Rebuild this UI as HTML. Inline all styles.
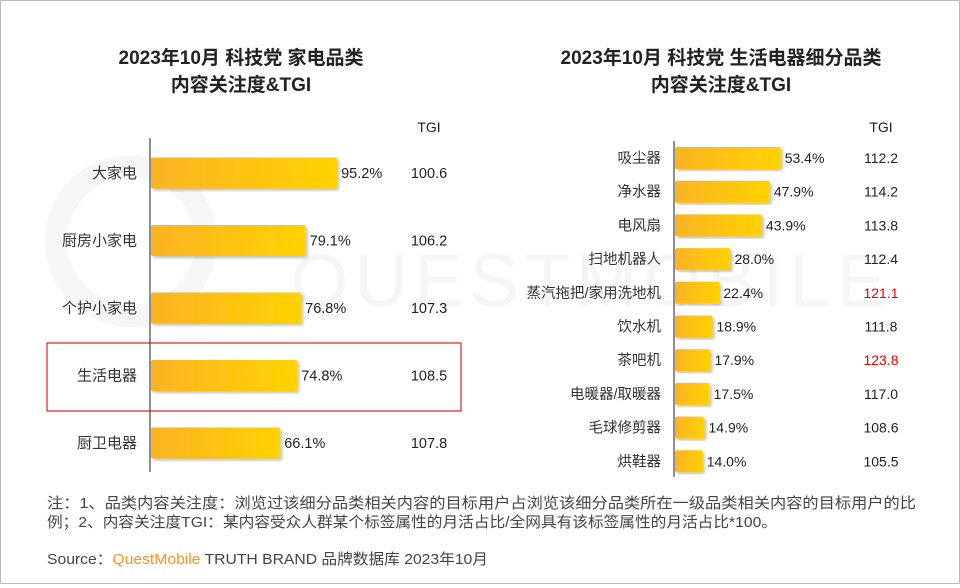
<!DOCTYPE html>
<html><head><meta charset="utf-8"><style>
body{margin:0;width:960px;height:584px;background:#fff;overflow:hidden;font-family:"Liberation Sans","Noto Sans CJK SC",sans-serif}
#root{position:relative;width:958px;height:582px;border:1px solid #bbb}
svg text{font-family:"Liberation Sans","Noto Sans CJK SC",sans-serif}
</style></head><body>
<div id="root">
<svg id="svg" width="958" height="582">
<defs><linearGradient id="g" x1="0" x2="1"><stop offset="0" stop-color="#fbb324"/><stop offset="1" stop-color="#ffd200"/></linearGradient>
<filter id="sh"><feDropShadow dx="2" dy="2" stdDeviation="1.5" flood-color="#000" flood-opacity="0.25"/></filter></defs>
<g>
<circle cx="130" cy="240" r="75" fill="none" stroke="#f6f6f6" stroke-width="22"/>
<text x="290" y="305" font-size="74" fill="#f5f5f5" letter-spacing="6">QUESTMOBILE</text></g>
<text x="240" y="63" text-anchor="middle" font-size="19" font-weight="bold" fill="#222">2023年10月 科技党 家电品类</text>
<text x="240" y="90" text-anchor="middle" font-size="19" font-weight="bold" fill="#222">内容关注度&amp;TGI</text>
<text x="720" y="63" text-anchor="middle" font-size="19" font-weight="bold" fill="#222">2023年10月 科技党 生活电器细分品类</text>
<text x="720" y="90" text-anchor="middle" font-size="19" font-weight="bold" fill="#222">内容关注度&amp;TGI</text>
<text x="428" y="131" text-anchor="middle" font-size="14" fill="#222">TGI</text>
<text x="880" y="131" text-anchor="middle" font-size="14" fill="#222">TGI</text>
<rect x="46" y="342" width="414" height="68" fill="none" stroke="#e02020" stroke-width="1.2"/>
<g id="L"></g><g id="R"></g>
<text x="46" y="507" font-size="15" fill="#444" textLength="869" lengthAdjust="spacingAndGlyphs">注：1、品类内容关注度：浏览过该细分品类相关内容的目标用户占浏览该细分品类所在一级品类相关内容的目标用户的比</text>
<text x="46" y="526" font-size="15" fill="#444" textLength="730" lengthAdjust="spacingAndGlyphs">例；2、内容关注度TGI：某内容受众人群某个标签属性的月活占比/全网具有该标签属性的月活占比*100。</text>
<text x="46" y="563" font-size="15" fill="#444" textLength="441" lengthAdjust="spacingAndGlyphs">Source：<tspan fill="#f7931e">QuestMobile</tspan> TRUTH BRAND 品牌数据库 2023年10月</text>
</svg></div>
<script>
const leftCats=["大家电","厨房小家电","个护小家电","生活电器","厨卫电器"];
const leftVals=[95.2,79.1,76.8,74.8,66.1];
const leftTgi=["100.6","106.2","107.3","108.5","107.8"];
const rightCats=["吸尘器","净水器","电风扇","扫地机器人","蒸汽拖把/家用洗地机","饮水机","茶吧机","电暖器/取暖器","毛球修剪器","烘鞋器"];
const rightVals=[53.4,47.9,43.9,28.0,22.4,18.9,17.9,17.5,14.9,14.0];
const rightTgi=["112.2","114.2","113.8","112.4","121.1","111.8","123.8","117.0","108.6","105.5"];
const NS="http://www.w3.org/2000/svg";
function mk(p,t,a,txt){const e=document.createElementNS(NS,t);for(const k in a)e.setAttribute(k,a[k]);if(txt!=null)e.textContent=txt;p.appendChild(e);return e;}
function draw(gid,cats,vals,tgi,o){
 const g=document.getElementById(gid);
 const x=v=>o.x0+v*o.k, y=i=>o.y0+i*o.step;
 const ax=mk(g,'line',{x1:o.x0-1,x2:o.x0-1,y1:o.ya,y2:o.yb,stroke:'#222','stroke-width':1});
 
 cats.forEach((c,i)=>{
  const cy=y(i);
  const lb=mk(g,'text',{x:o.x0-14,y:cy+5,'text-anchor':'end','font-size':o.fs+0.5,fill:'#333'},c);
  
  const r=mk(g,'rect',{x:o.x0,y:cy-o.h/2,width:x(vals[i])-o.x0,height:o.h,rx:2,fill:'url(#g)',filter:'url(#sh)'});
  
  const v=mk(g,'text',{x:x(vals[i])+4,y:cy+5,'font-size':o.fs,fill:'#222'},vals[i].toFixed(1)+'%');
  
  const red=parseFloat(tgi[i])>120;
  const t=mk(g,'text',{x:o.tx,y:cy+5,'text-anchor':'middle','font-size':o.fs,fill:red?'#e00':'#222'},tgi[i]);
  
 });
}
draw('L',leftCats,leftVals,leftTgi,{x0:150,k:1.955,y0:172,step:67.5,h:31,ya:137,yb:471,tx:428,fs:14.5});
draw('R',rightCats,rightVals,rightTgi,{x0:674,k:1.98,y0:157,step:33.7,h:22,ya:140,yb:476,tx:880,fs:14});
</script>
</body></html>
